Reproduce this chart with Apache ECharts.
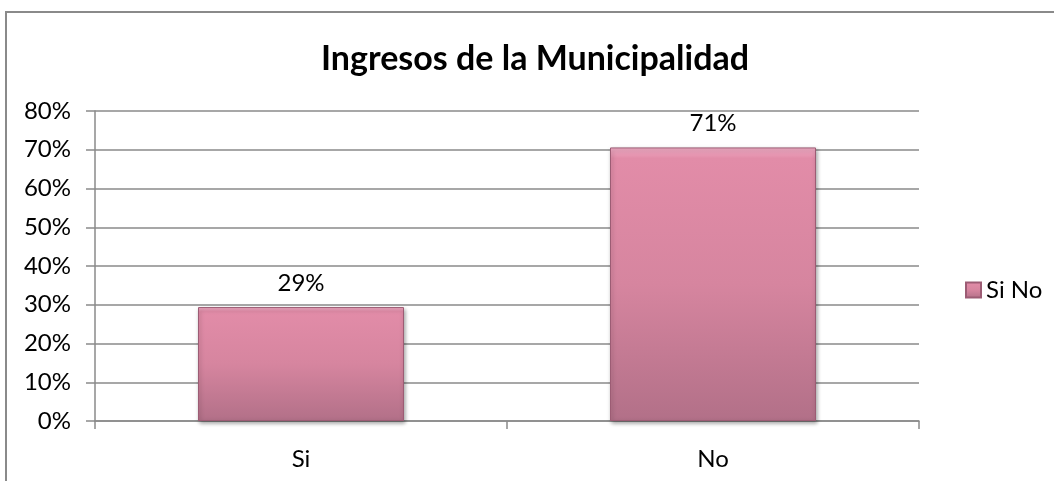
<!DOCTYPE html>
<html>
<head>
<meta charset="utf-8">
<script src="https://cdn.jsdelivr.net/npm/echarts@6/dist/echarts.min.js"></script>
<style>
  html, body { margin: 0; padding: 0; background: #fff; }
  #chart { width: 1054px; height: 481px; }
</style>
</head>
<body>
<div id="chart"></div>
<script>
  // datos del grafico
  var categorias = ["Si", "No"];
  var valores = [0.294, 0.706];
  var serieNombre = "Si No";
  var tituloTexto = "Ingresos de la Municipalidad";

  var fuente = "Lato, 'Open Sans', sans-serif";
  var gris = "#8a8a8a";

  var chart = echarts.init(document.getElementById("chart"));

  var relleno = new echarts.graphic.LinearGradient(0, 0, 0, 1, [
    { offset: 0, color: "#f2aec7" },
    { offset: 0.04, color: "#e28ca8" },
    { offset: 0.5, color: "#d6859f" },
    { offset: 1, color: "#b27088" }
  ]);

  chart.setOption({
    animation: false,
    textStyle: { fontFamily: fuente },
    graphic: [
      {
        type: "rect",
        shape: { x: 6, y: 12, width: 1200, height: 600 },
        style: { fill: "none", stroke: gris, lineWidth: 2 },
        silent: true
      }
    ],
    title: {
      text: tituloTexto,
      left: 530,
      textAlign: "center",
      top: 37,
      textStyle: {
        fontFamily: fuente,
        fontSize: 34,
        fontWeight: "bold",
        color: "#000"
      }
    },
    legend: {
      data: [serieNombre],
      left: 960,
      top: 273,
      itemWidth: 15,
      itemHeight: 15,
      itemGap: 6,
      icon: "rect",
      textStyle: { fontFamily: fuente, fontSize: 24, color: "#000" }
    },
    grid: { left: 95, right: 135, top: 111, bottom: 60, containLabel: false },
    xAxis: {
      type: "category",
      data: categorias,
      boundaryGap: true,
      axisLine: { lineStyle: { color: gris, width: 1.5 } },
      axisTick: { show: true, length: 8, lineStyle: { color: gris, width: 1.5 } },
      axisLabel: { color: "#000", fontSize: 24, margin: 26, fontFamily: fuente }
    },
    yAxis: {
      type: "value",
      min: 0,
      max: 0.8,
      interval: 0.1,
      axisLine: { show: true, lineStyle: { color: gris, width: 1.5 } },
      axisTick: { show: true, length: 9, lineStyle: { color: gris, width: 1.5 } },
      splitLine: { show: true, lineStyle: { color: gris, width: 1.5 } },
      axisLabel: {
        color: "#000",
        fontSize: 24,
        margin: 24,
        fontFamily: fuente,
        formatter: function (v) { return Math.round(v * 100) + "%"; }
      }
    },
    series: [
      {
        name: serieNombre,
        type: "bar",
        data: valores,
        barWidth: "50%",
        itemStyle: {
          color: relleno,
          borderColor: "#9c5c74",
          borderWidth: 1,
          shadowColor: "rgba(0,0,0,0.35)",
          shadowBlur: 4,
          shadowOffsetX: 1,
          shadowOffsetY: 2
        },
        label: {
          show: true,
          position: "top",
          distance: 12,
          color: "#000",
          fontSize: 24,
          fontFamily: fuente,
          formatter: function (p) { return Math.round(p.value * 100) + "%"; }
        }
      }
    ]
  });
</script>
</body>
</html>
